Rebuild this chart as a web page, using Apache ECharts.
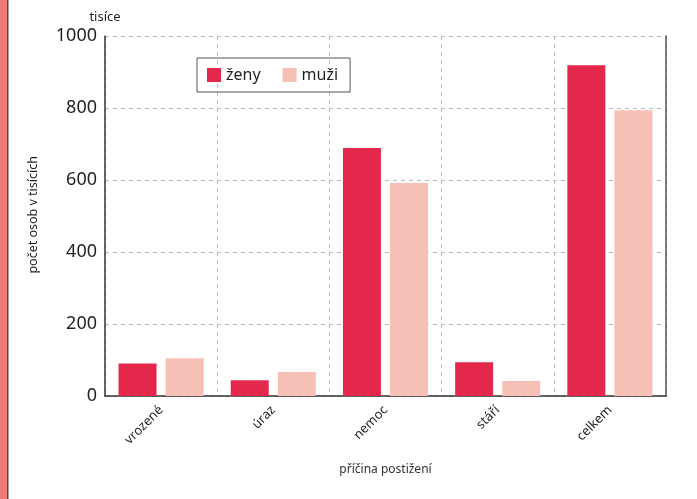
<!DOCTYPE html>
<html>
<head>
<meta charset="utf-8">
<script src="https://cdn.jsdelivr.net/npm/echarts@6/dist/echarts.min.js"></script>
<style>
	html, body { margin: 0; padding: 0; background: #fff; }
	#chart { width: 697px; height: 499px; }
</style>
</head>
<body>
<div id="chart"></div>
<script>
	// data (thousands)
	var categories = ['vrozené', 'úraz', 'nemoc', 'stáří', 'celkem'];
	var zeny = [90, 44, 689, 94, 919];
	var muzi = [105, 67, 592, 42, 794];
	var yTicks = [0, 200, 400, 600, 800, 1000];

	var font = 'Noto Sans';
	var chart = echarts.init(document.getElementById('chart'));
	var option = {
		animation: false,
		textStyle: { fontFamily: font, color: '#231f20' },
		graphic: [
			{ type: 'rect', shape: { x: 0, y: 0, width: 7, height: 499 }, style: { fill: '#ef7b74' } },
			{ type: 'rect', shape: { x: 7, y: 0, width: 1.5, height: 499 }, style: { fill: '#4d4d4d' } },
			// rotated y-axis title on the left
			{
				type: 'text', left: 27, top: 156, rotation: Math.PI / 2,
				style: { text: 'počet osob v tisících', font: '12.5px "Noto Sans"', fill: '#231f20' }
			}
		],
		grid: { left: 105, right: 31, top: 36, bottom: 103 },
		legend: {
			left: 197, top: 58,
			padding: [9, 12, 9, 10],
			itemGap: 22,
			itemWidth: 14, itemHeight: 14,
			icon: 'rect',
			borderColor: '#555', borderWidth: 1,
			textStyle: { fontSize: 16, fontFamily: font, color: '#231f20' },
			data: ['ženy', 'muži']
		},
		xAxis: {
			type: 'category',
			data: categories,
			name: 'příčina postižení',
			nameLocation: 'middle',
			nameGap: 68,
			nameTextStyle: { fontSize: 12, color: '#333' },
			axisLine: { lineStyle: { color: '#333', width: 1.5 } },
			axisTick: { show: false },
			axisLabel: { rotate: 45, fontSize: 13, margin: 12, color: '#231f20' },
			splitLine: { show: true, lineStyle: { color: '#bbb', type: [4, 4] } }
		},
		yAxis: [{
			type: 'value',
			min: yTicks[0], max: yTicks[yTicks.length - 1], interval: 200,
			name: 'tisíce',
			nameLocation: 'end',
			nameGap: 12,
			nameTextStyle: { fontSize: 13, color: '#231f20', align: 'center' },
			axisLine: { show: true, lineStyle: { color: '#333', width: 1.5 } },
			axisTick: { show: false },
			axisLabel: { fontSize: 18, margin: 8, color: '#231f20', formatter: function (v) { return String(v); } },
			splitLine: { show: true, lineStyle: { color: '#bbb', type: [4, 4] } }
		}, {
			type: 'value',
			min: 0, max: 1000, interval: 200,
			position: 'right',
			axisLine: { show: true, lineStyle: { color: '#555', width: 1.5 } },
			axisTick: { show: false },
			axisLabel: { show: false },
			splitLine: { show: false }
		}],
		series: [{
			name: 'ženy', type: 'bar', data: zeny,
			barWidth: 38, barGap: '24%',
			itemStyle: { color: '#e4284b' }
		}, {
			name: 'muži', type: 'bar', data: muzi,
			barWidth: 38,
			itemStyle: { color: '#f6c0b7' }
		}]
	};
	chart.setOption(option);
</script>
</body>
</html>
